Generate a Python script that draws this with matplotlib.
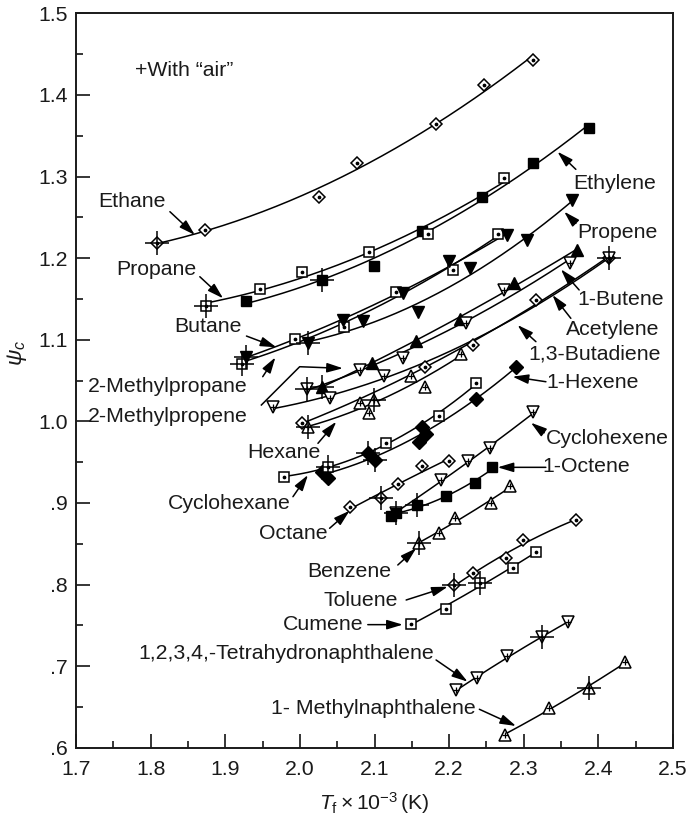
import numpy as np
import matplotlib
matplotlib.use('Agg')
import matplotlib.pyplot as plt
from matplotlib.ticker import MultipleLocator, FuncFormatter

plt.rcParams['font.family'] = ['Liberation Sans', 'DejaVu Sans']
plt.rcParams['mathtext.fontset'] = 'custom'
plt.rcParams['mathtext.rm'] = 'Liberation Sans'
plt.rcParams['mathtext.it'] = 'Liberation Sans:italic'

# ---------------- data (T_f x 1e-3 K, psi_c) ----------------
ethane_T = [1.808, 1.873, 2.026, 2.076, 2.182, 2.247, 2.313]
ethane_psi = [1.219, 1.234, 1.275, 1.316, 1.364, 1.412, 1.443]

ethylene_T = [1.928, 2.029, 2.099, 2.164, 2.244, 2.313, 2.388]
ethylene_psi = [1.147, 1.173, 1.190, 1.233, 1.275, 1.317, 1.360]

propane_T = [1.874, 1.946, 2.003, 2.092, 2.172, 2.273]
propane_psi = [1.141, 1.162, 1.183, 1.208, 1.230, 1.298]

propene_T = [2.011, 2.084, 2.158, 2.228, 2.304, 2.365]
propene_psi = [1.096, 1.123, 1.134, 1.188, 1.222, 1.271]

butane_T = [1.922, 1.994, 2.059, 2.129, 2.205, 2.265]
butane_psi = [1.070, 1.101, 1.115, 1.158, 1.185, 1.230]

methylpropane_T = [1.928, 2.058, 2.138, 2.200, 2.278]
methylpropane_psi = [1.079, 1.124, 1.157, 1.196, 1.228]

methylpropene_T = [2.029, 2.096, 2.156, 2.214, 2.287, 2.372]
methylpropene_psi = [1.042, 1.072, 1.098, 1.126, 1.169, 1.210]

butene_T = [2.009, 2.080, 2.138, 2.223, 2.274, 2.362]
butene_psi = [1.040, 1.063, 1.077, 1.120, 1.161, 1.194]

acetylene_T = [2.003, 2.168, 2.232, 2.316, 2.414]
acetylene_psi = [0.998, 1.066, 1.094, 1.149, 1.200]

butadiene_T = [1.964, 2.040, 2.113, 2.414]
butadiene_psi = [1.017, 1.028, 1.055, 1.200]

hexane_T = [2.011, 2.080, 2.099, 2.093, 2.149, 2.167, 2.216]
hexane_psi = [0.993, 1.022, 1.026, 1.010, 1.055, 1.042, 1.083]

hexene_T = [2.029, 2.038, 2.091, 2.100, 2.159, 2.163, 2.169, 2.236, 2.290]
hexene_psi = [0.938, 0.930, 0.961, 0.953, 0.975, 0.993, 0.985, 1.027, 1.067]

cyclohexane_T = [1.979, 2.038, 2.116, 2.186, 2.236]
cyclohexane_psi = [0.932, 0.944, 0.974, 1.007, 1.047]

cyclohexene_T = [2.129, 2.189, 2.225, 2.255, 2.313]
cyclohexene_psi = [0.888, 0.928, 0.951, 0.967, 1.011]

octane_T = [2.067, 2.109, 2.132, 2.163, 2.200]
octane_psi = [0.895, 0.906, 0.923, 0.945, 0.951]

octene_T = [2.122, 2.129, 2.157, 2.196, 2.235, 2.258]
octene_psi = [0.884, 0.888, 0.897, 0.908, 0.924, 0.944]

benzene_T = [2.159, 2.187, 2.208, 2.256, 2.282]
benzene_psi = [0.851, 0.863, 0.881, 0.900, 0.921]

toluene_T = [2.207, 2.232, 2.276, 2.299, 2.370]
toluene_psi = [0.799, 0.814, 0.832, 0.855, 0.879]

cumene_T = [2.149, 2.196, 2.241, 2.285, 2.317]
cumene_psi = [0.752, 0.770, 0.802, 0.820, 0.840]

thn_T = [2.209, 2.238, 2.278, 2.325, 2.359]
thn_psi = [0.671, 0.685, 0.712, 0.736, 0.754]

mnap_T = [2.275, 2.334, 2.387, 2.436]
mnap_psi = [0.616, 0.649, 0.673, 0.705]

# points measured "with air"
air_T = [1.808, 1.874, 2.029, 1.922, 1.928, 2.011, 2.029, 2.009, 2.099, 2.011,
         2.414, 2.038, 2.091, 2.100, 2.109, 2.129, 2.157, 2.159, 2.207, 2.241,
         2.325, 2.387]
air_psi = [1.219, 1.141, 1.173, 1.070, 1.079, 1.096, 1.042, 1.040, 1.026, 0.993,
           1.200, 0.944, 0.961, 0.953, 0.906, 0.888, 0.897, 0.851, 0.799, 0.802,
           0.736, 0.673]

series = [
    (ethane_T, ethane_psi, 'dot_diamond'),
    (ethylene_T, ethylene_psi, 'filled_square'),
    (propane_T, propane_psi, 'dot_square'),
    (propene_T, propene_psi, 'filled_down'),
    (butane_T, butane_psi, 'dot_square'),
    (methylpropane_T, methylpropane_psi, 'filled_down'),
    (methylpropene_T, methylpropene_psi, 'filled_up'),
    (butene_T, butene_psi, 'hatch_down'),
    (acetylene_T, acetylene_psi, 'dot_diamond'),
    (butadiene_T, butadiene_psi, 'hatch_down'),
    (hexane_T, hexane_psi, 'hatch_up'),
    (hexene_T, hexene_psi, 'filled_diamond'),
    (cyclohexane_T, cyclohexane_psi, 'dot_square'),
    (cyclohexene_T, cyclohexene_psi, 'hatch_down'),
    (octane_T, octane_psi, 'dot_diamond'),
    (octene_T, octene_psi, 'filled_square'),
    (benzene_T, benzene_psi, 'hatch_up'),
    (toluene_T, toluene_psi, 'dot_diamond'),
    (cumene_T, cumene_psi, 'dot_square'),
    (thn_T, thn_psi, 'hatch_down'),
    (mnap_T, mnap_psi, 'hatch_up'),
]

# ---------------- figure ----------------
fig = plt.figure(figsize=(6.88, 8.23), dpi=100)
ax = fig.add_axes([0.1105, 0.0915, 0.8677, 0.8923])
ax.set_xlim(1.7, 2.5)
ax.set_ylim(0.6, 1.5)

K = 'black'
TXT = '#1a1a1a'


def draw_markers(x, y, kind):
    if kind == 'dot_diamond':
        ax.plot(x, y, ls='none', marker='D', ms=6, mfc='white', mec=K, mew=1.1, zorder=4)
        ax.plot(x, y, ls='none', marker='o', ms=1.7, mfc=K, mec=K, zorder=5)
    elif kind == 'dot_square':
        ax.plot(x, y, ls='none', marker='s', ms=6.5, mfc='white', mec=K, mew=1.1, zorder=4)
        ax.plot(x, y, ls='none', marker='o', ms=1.7, mfc=K, mec=K, zorder=5)
    elif kind == 'filled_square':
        ax.plot(x, y, ls='none', marker='s', ms=6.8, mfc=K, mec=K, zorder=4)
    elif kind == 'filled_down':
        ax.plot(x, y, ls='none', marker='v', ms=8.5, mfc=K, mec=K, zorder=4)
    elif kind == 'filled_up':
        ax.plot(x, y, ls='none', marker='^', ms=8.5, mfc=K, mec=K, zorder=4)
    elif kind == 'filled_diamond':
        ax.plot(x, y, ls='none', marker='D', ms=7.5, mfc=K, mec=K, zorder=4)
    elif kind == 'hatch_down':
        ax.plot(x, y, ls='none', marker='v', ms=8.5, mfc='white', mec=K, mew=1.1, zorder=4)
        ax.plot(x, y, ls='none', marker='+', ms=5, mec=K, mew=0.9, zorder=5)
    elif kind == 'hatch_up':
        ax.plot(x, y, ls='none', marker='^', ms=8.5, mfc='white', mec=K, mew=1.1, zorder=4)
        ax.plot(x, y, ls='none', marker='+', ms=5, mec=K, mew=0.9, zorder=5)


for T, psi, kind in series:
    T = np.asarray(T)
    psi = np.asarray(psi)
    coef = np.polyfit(T, psi, 2)
    xs = np.linspace(T.min(), T.max(), 200)
    ax.plot(xs, np.polyval(coef, xs), color=K, lw=1.1, zorder=3)
    draw_markers(T, psi, kind)

ax.plot(air_T, air_psi, ls='none', marker='+', ms=17, mec=K, mew=1.1, zorder=6)

# ---------------- labels with arrows ----------------
FS = 15.3
arrow = dict(arrowstyle='-|>,head_length=0.8,head_width=0.24', color=K, lw=1.1,
             mutation_scale=12, shrinkA=0, shrinkB=0)

labels = [
    ('Ethane', (1.7745, 1.2691), (1.8258, 1.2569), (1.8592, 1.2284)),
    ('Ethylene', (2.422, 1.2917), (2.3698, 1.3088), (2.3452, 1.3304)),
    ('Propane', (1.808, 1.1863), (1.8659, 1.1772), (1.8971, 1.1507)),
    ('Propene', (2.4255, 1.2311), (2.3698, 1.2426), (2.3542, 1.2569)),
    ('Butane', (1.877, 1.1159), (1.9284, 1.1045), (1.9685, 1.0907)),
    ('2-Methylpropane', (1.8231, 1.0424), (1.9502, 1.0547), (1.9672, 1.0784)),
    ('Hexane', (1.9789, 0.9618), (2.0242, 0.973), (2.0488, 0.9995)),
    ('Cyclohexane', (1.906, 0.8995), (1.9907, 0.9076), (2.0108, 0.9342)),
    ('Octane', (1.9907, 0.8627), (2.0398, 0.8689), (2.0666, 0.8904)),
    ('Benzene', (2.0665, 0.8157), (2.1312, 0.8239), (2.1558, 0.8444)),
    ('Toluene', (2.0819, 0.781), (2.1424, 0.781), (2.1981, 0.7973)),
    ('Cumene', (2.0308, 0.7508), (2.091, 0.7508), (2.1379, 0.7508)),
    ('1,2,3,4,-Tetrahydronaphthalene', (1.9816, 0.7157), (2.1825, 0.7075), (2.2248, 0.6809)),
    ('1- Methylnaphthalene', (2.0987, 0.6483), (2.2405, 0.6471), (2.2896, 0.6266)),
    ('1-Butene', (2.43, 1.1487), (2.3742, 1.161), (2.3498, 1.1863)),
    ('Acetylene', (2.4188, 1.1131), (2.3631, 1.1262), (2.3385, 1.1548)),
    ('1,3-Butadiene', (2.3943, 1.0825), (2.3163, 1.0976), (2.2917, 1.118)),
    ('1-Hexene', (2.3921, 1.0473), (2.3297, 1.0485), (2.285, 1.0547)),
    ('Cyclohexene', (2.4121, 0.9792), (2.3274, 0.986), (2.3096, 0.9983)),
    ('1-Octene', (2.3831, 0.9444), (2.3296, 0.9436), (2.265, 0.9436)),
]
for text, tpos, tail, head in labels:
    ax.text(tpos[0], tpos[1], text, fontsize=FS, ha='center', va='center',
            color=TXT, zorder=7)
    ax.annotate('', xy=head, xytext=tail, arrowprops=arrow, zorder=7)

# 2-Methylpropene: label with bent leader
ax.text(1.8231, 1.0053, '2-Methylpropene', fontsize=FS, ha='center', va='center',
        color=TXT, zorder=7)
ax.plot([1.9484, 1.9997, 2.040], [1.020, 1.0669, 1.0655], color=K, lw=1.1, zorder=7)
ax.annotate('', xy=(2.0576, 1.065), xytext=(2.038, 1.0656), arrowprops=arrow, zorder=7)

ax.text(1.779, 1.4305, '+With \u201cair\u201d', fontsize=FS, ha='left', va='center',
        color=TXT)

# ---------------- axes styling ----------------
ax.xaxis.set_major_locator(MultipleLocator(0.1))
ax.xaxis.set_minor_locator(MultipleLocator(0.05))
ax.yaxis.set_major_locator(MultipleLocator(0.1))
ax.yaxis.set_minor_locator(MultipleLocator(0.05))
ax.xaxis.set_major_formatter(FuncFormatter(lambda v, p: f'{v:.1f}'))


def yfmt(v, p):
    s = f'{v:.1f}'
    return s[1:] if s.startswith('0') else s


ax.yaxis.set_major_formatter(FuncFormatter(yfmt))
ax.tick_params(which='both', direction='in', top=False, right=False,
               labelsize=FS, colors=K, labelcolor=TXT, width=1.1)
ax.tick_params(which='major', length=10)
ax.tick_params(which='minor', length=5)
ax.tick_params(axis='x', pad=9)
ax.tick_params(axis='y', pad=6)
for sp in ax.spines.values():
    sp.set_linewidth(1.4)
    sp.set_color('#1a1a1a')

fig.text(374.5 / 688, 1 - 803 / 823, r'$T_{\rm f}\times10^{-3}\,\mathrm{(K)}$',
         fontsize=FS, ha='center', va='center', color=TXT)
fig.text(17 / 688, 1 - 353 / 823, r'$\psi_c$', fontsize=FS + 1, rotation=90,
         ha='center', va='center', color=TXT)

fig.savefig('out.png', dpi=100)
